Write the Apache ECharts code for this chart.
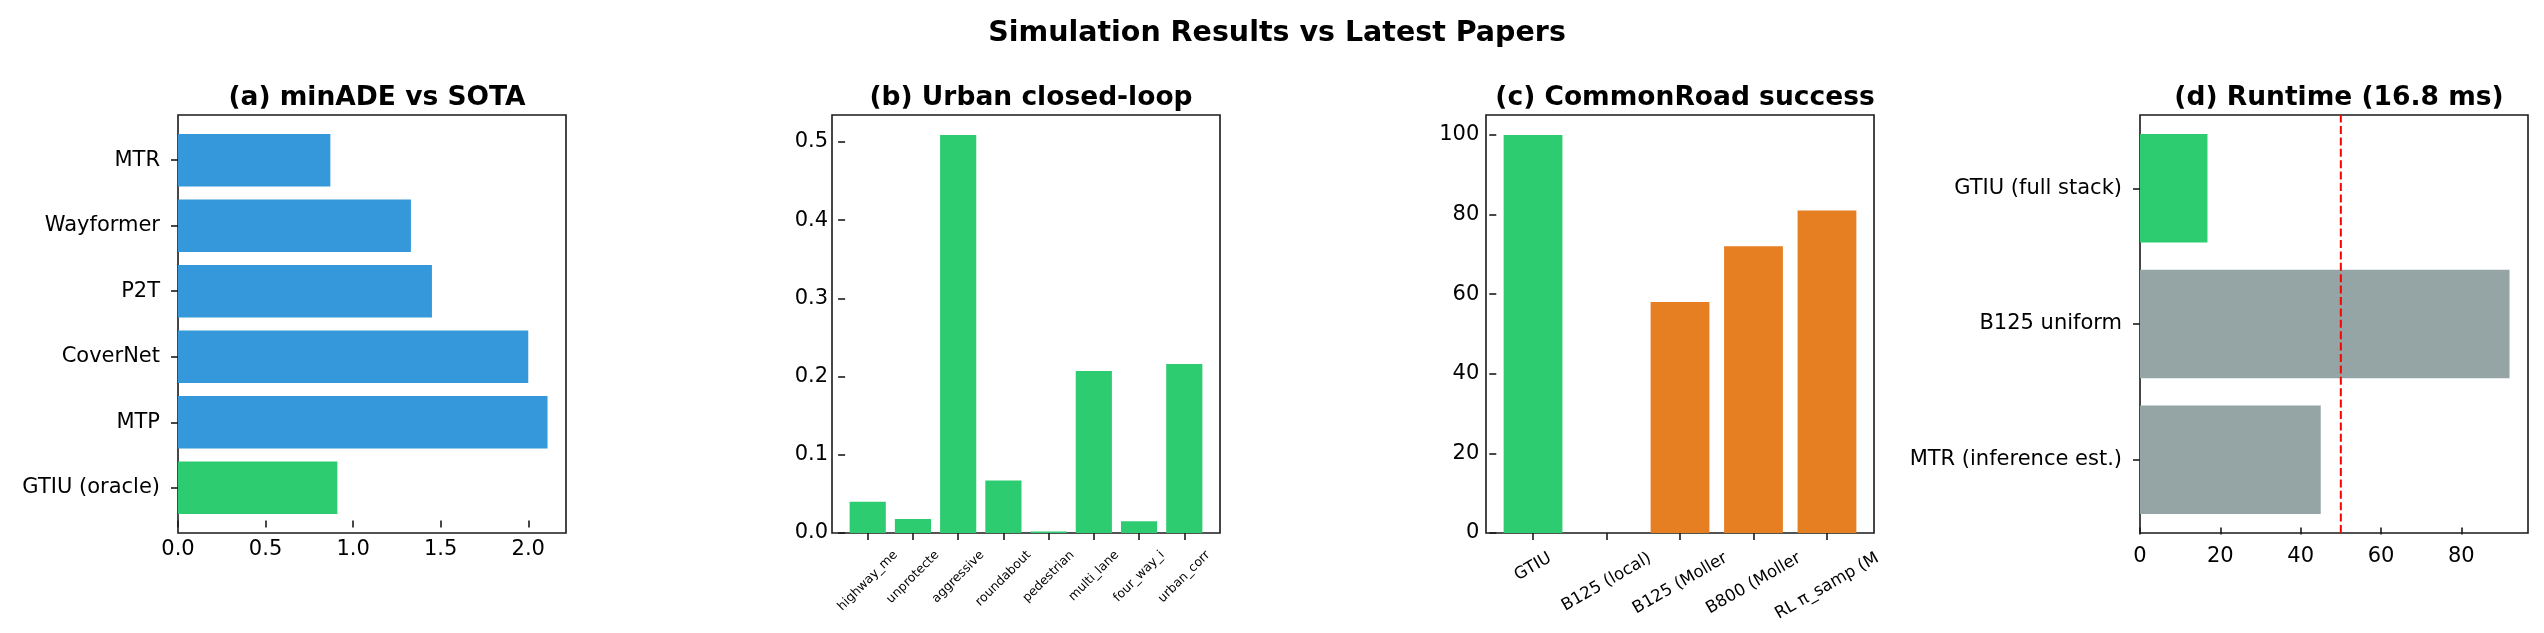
<!DOCTYPE html>
<html lang="en">
<head>
  <meta charset="UTF-8">
  <title>Simulation Results vs Latest Papers</title>
  <style>
    html, body { margin: 0; padding: 0; background: #fff; }
  </style>
</head>
<body>
  <script src="https://cdn.jsdelivr.net/npm/echarts@6/dist/echarts.min.js"></script>
  <div id="main" style="width: 2544px;height:633px;"></div>
  <script type="text/javascript">
      // data
      var aNames = ['GTIU (oracle)', 'MTP', 'CoverNet', 'P2T', 'Wayformer', 'MTR'];
      var aValues = [0.91, 2.11, 2.0, 1.45, 1.33, 0.87];
      var aTicks = [0, 0.5, 1.0, 1.5, 2.0];

      var bNames = ['highway_me', 'unprotecte', 'aggressive', 'roundabout', 'pedestrian', 'multi_lane', 'four_way_i', 'urban_corr'];
      var bValues = [0.040, 0.018, 0.509, 0.067, 0.002, 0.207, 0.015, 0.216];
      var bTicks = [0, 0.1, 0.2, 0.3, 0.4, 0.5];

      var cNames = ['GTIU', 'B125 (local)', 'B125 (Moller', 'B800 (Moller', 'RL π_samp (M'];
      var cValues = [100, 0, 58, 72, 81];
      var cTicks = [0, 20, 40, 60, 80, 100];

      var dNames = ['MTR (inference est.)', 'B125 uniform', 'GTIU (full stack)'];
      var dValues = [45, 92, 16.8];
      var dBudget = 50;
      var dTicks = [0, 20, 40, 60, 80];

      var titles = ['(a) minADE vs SOTA', '(b) Urban closed-loop', '(c) CommonRoad success', '(d) Runtime (16.8 ms)'];

      var FONT = 'DejaVu Sans';
      var INK = '#1a1a1a';
      var GREEN = '#2ecc71', BLUE = '#3498db', ORANGE = '#e67e22', GRAY = '#95a5a6';

      // axes boxes (px)
      var LEFTS = [178, 832, 1486, 2140];
      var TOP = 115, W = 388, H = 418;

      // matplotlib pads the category range by 5% around bars of width 0.8
      function inset(len, n) {
        return len * (1 - n / ((n - 0.2) * 1.1)) / 2;
      }

      function barData(names, values, base) {
        return values.map(function (v, i) {
          return { value: v, itemStyle: { color: names[i].indexOf('GTIU') === 0 ? GREEN : base } };
        });
      }

      // rotated, centred labels (like ha='center' in matplotlib)
      var measure = document.createElement('canvas').getContext('2d');
      function slantRich(names, deg, size) {
        measure.font = size + 'px "' + FONT + '"';
        var s = Math.sin(deg * Math.PI / 180), c = Math.cos(deg * Math.PI / 180);
        var rich = {};
        names.forEach(function (n, i) {
          var d = measure.measureText(n).width / 2 * s;
          rich['t' + i] = { fontSize: size, fontFamily: FONT, color: '#000', padding: [2 * d * c, 2 * d * s, 0, 0] };
        });
        return rich;
      }

      var tickStyle = { show: true, inside: false, length: 7, lineStyle: { color: INK, width: 1.6 } };

      function valueAxis(grid, max, ticks, digits, margin) {
        return {
          gridIndex: grid, type: 'value', min: 0, max: max,
          axisLine: { show: false }, splitLine: { show: false },
          axisTick: Object.assign({ customValues: ticks }, tickStyle),
          axisLabel: {
            customValues: ticks, fontSize: 21, fontFamily: FONT, color: '#000', margin: margin,
            formatter: function (v) { return v.toFixed(digits); }
          }
        };
      }

      function catAxis(grid, names, label) {
        return {
          gridIndex: grid, type: 'category', data: names,
          axisLine: { show: false },
          axisTick: Object.assign({ alignWithLabel: true }, tickStyle),
          axisLabel: label
        };
      }

      function hidden(grid, max) {
        return { gridIndex: grid, type: 'value', show: false, min: 0, max: max };
      }

      var grids = [], xAxes = [], yAxes = [], series = [], titleList = [];

      titleList.push({
        text: 'Simulation Results vs Latest Papers', left: 1272, top: 14, textAlign: 'center',
        textStyle: { fontFamily: FONT, fontSize: 28.5, fontWeight: 'bold', color: '#000' }
      });
      titles.forEach(function (t, i) {
        titleList.push({
          text: t, left: LEFTS[i] + W / 2, top: 80, textAlign: 'center',
          textStyle: { fontFamily: FONT, fontSize: 26.5, fontWeight: 'bold', color: '#000' }
        });
      });

      function frame(i) {
        grids.push({ left: LEFTS[i], top: TOP, width: W, height: H, show: true, borderColor: INK, borderWidth: 1.6, backgroundColor: 'transparent' });
      }

      var catLabel = { interval: 0, fontSize: 21, fontFamily: FONT, color: '#000', margin: 18 };

      // (a) horizontal bars
      var aMax = Math.max.apply(null, aValues) * 1.05;
      frame(0);
      var ia = inset(H, aNames.length);
      grids.push({ left: LEFTS[0], top: TOP + ia, width: W, height: H - 2 * ia });
      xAxes.push(hidden(0, 1)); yAxes.push(hidden(0, 1));
      xAxes.push(valueAxis(1, aMax, aTicks, 1, 18));
      yAxes.push(catAxis(1, aNames, catLabel));
      series.push({ type: 'bar', xAxisIndex: 1, yAxisIndex: 1, barCategoryGap: '20%', data: barData(aNames, aValues, BLUE) });

      // (b) vertical bars, small 45° labels
      var bMax = Math.max.apply(null, bValues) * 1.05;
      frame(1);
      var ib = inset(W, bNames.length);
      grids.push({ left: LEFTS[1] + ib, top: TOP, width: W - 2 * ib, height: H });
      xAxes.push(hidden(2, 1)); yAxes.push(hidden(2, 1));
      xAxes.push(catAxis(3, bNames, {
        interval: 0, rotate: 45, align: 'center', verticalAlign: 'middle', margin: 20,
        formatter: function (v, i) { return '{t' + i + '|' + v + '}'; },
        rich: slantRich(bNames, 45, 12.5)
      }));
      yAxes.push(valueAxis(3, bMax, bTicks, 1, 17));
      series.push({ type: 'bar', xAxisIndex: 3, yAxisIndex: 3, barCategoryGap: '20%', data: barData(bNames, bValues, GREEN) });

      // (c) vertical bars, 30° labels
      var cMax = Math.max.apply(null, cValues) * 1.05;
      frame(2);
      var ic = inset(W, cNames.length);
      grids.push({ left: LEFTS[2] + ic, top: TOP, width: W - 2 * ic, height: H });
      xAxes.push(hidden(4, 1)); yAxes.push(hidden(4, 1));
      xAxes.push(catAxis(5, cNames, {
        interval: 0, rotate: 30, align: 'center', verticalAlign: 'middle', margin: 24,
        formatter: function (v, i) { return '{t' + i + '|' + v + '}'; },
        rich: slantRich(cNames, 30, 16.7)
      }));
      yAxes.push(valueAxis(5, cMax, cTicks, 0, 17));
      series.push({ type: 'bar', xAxisIndex: 5, yAxisIndex: 5, barCategoryGap: '20%', data: barData(cNames, cValues, ORANGE) });

      // (d) runtime, with the 50 ms budget line
      var dMax = Math.max.apply(null, dValues) * 1.05;
      frame(3);
      var id = inset(H, dNames.length);
      grids.push({ left: LEFTS[3], top: TOP + id, width: W, height: H - 2 * id });
      xAxes.push(hidden(6, dMax)); yAxes.push(hidden(6, 1));
      xAxes.push(valueAxis(7, dMax, dTicks, 0, 18));
      yAxes.push(catAxis(7, dNames, catLabel));
      series.push({ type: 'bar', xAxisIndex: 7, yAxisIndex: 7, barCategoryGap: '20%', data: barData(dNames, dValues, GRAY) });
      series.push({
        type: 'line', xAxisIndex: 6, yAxisIndex: 6, symbol: 'none', silent: true, z: 5,
        lineStyle: { color: '#ff0000', width: 2, type: [8, 3.4] },
        data: [[dBudget, 0], [dBudget, 1]]
      });

      var myChart = echarts.init(document.getElementById('main'));
      myChart.setOption({
        animation: false,
        backgroundColor: '#fff',
        textStyle: { fontFamily: FONT },
        title: titleList,
        grid: grids,
        xAxis: xAxes,
        yAxis: yAxes,
        series: series
      });
  </script>
</body>
</html>
